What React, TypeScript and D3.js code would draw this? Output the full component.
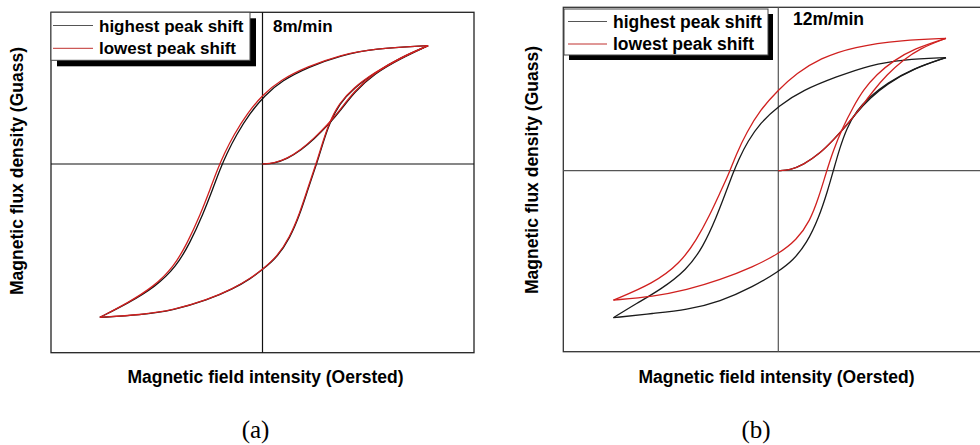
import React from "react";
import * as d3 from "d3";

type P = [number, number];

// ---------- Panel (a): 8 m/min ----------
const aRedInitial: P[] = [[0, 0], [5.4, 0.4], [11.7, 3.7], [18.0, 9.2], [24.3, 16.9], [30.6, 25.6], [36.9, 36.0], [43.2, 47.7], [52.6, 59.8], [65.2, 69.7], [78.3, 78.0]];
const aRedAscending: P[] = [[-76.9, -101.1], [-57.7, -99.5], [-41.9, -96.2], [-26.2, -89.6], [-13.6, -82.0], [-5.7, -75.4], [0, -69.4], [6.9, -61.1], [12.8, -48.5], [17.6, -32.5], [21.4, -16.0], [24.2, -4.5], [26.0, 3.0], [28.4, 14.0], [31.4, 26.8], [36.1, 40.0], [43.2, 50.5], [52.6, 60.0], [65.2, 70.3], [78.3, 78.0]];
const aRedDescending: P[] = [[78.3, 78.0], [52.6, 76.2], [36.9, 71.9], [21.1, 64.2], [8.5, 55.4], [0, 45.5], [-7.2, 33.4], [-13.6, 19.2], [-18.2, 6.5], [-21.3, -3.5], [-24.6, -16.0], [-29.3, -33.0], [-35.6, -52.3], [-41.9, -67.7], [-51.4, -80.9], [-64.0, -91.8], [-76.9, -101.1]];
const aBlackInitial: P[] = [[0, 0], [5.4, 0.3], [11.8, 3.5], [18.2, 9.0], [24.5, 16.6], [30.8, 25.3], [37.1, 35.7], [43.4, 47.4], [52.8, 59.6], [65.3, 69.6], [78.3, 78.0]];
const aBlackAscending: P[] = [[-76.9, -101.1], [-57.7, -99.6], [-41.9, -96.3], [-26.2, -89.8], [-13.6, -82.2], [-5.7, -75.6], [0, -69.7], [7.0, -61.4], [13.0, -48.8], [17.8, -32.8], [21.6, -16.2], [24.4, -4.7], [26.2, 2.8], [28.6, 13.8], [31.6, 26.6], [36.3, 39.8], [43.4, 50.3], [52.8, 59.9], [65.3, 70.2], [78.3, 78.0]];
const aBlackDescending: P[] = [[78.3, 78.0], [52.8, 76.1], [37.2, 71.7], [21.6, 63.9], [9.2, 55.0], [1.0, 45.2], [-6.0, 33.4], [-12.4, 19.2], [-17.0, 6.5], [-20.1, -3.5], [-23.4, -16.0], [-28.1, -33.0], [-34.4, -52.3], [-40.8, -67.7], [-50.6, -80.9], [-63.6, -91.8], [-76.9, -101.1]];

// ---------- Panel (b): 12 m/min ----------
const bRedInitial: P[] = [[0, 0], [5.4, 0.4], [11.6, 3.5], [19.4, 10.6], [25.6, 18.8], [31.8, 27.9], [38.0, 38.0], [44.2, 49.0], [50.4, 58.6], [58.1, 67.7], [65.9, 74.9], [78.0, 81.0]];
const bRedAscending: P[] = [[-76.7, -79.2], [-58.1, -77.1], [-42.6, -73.0], [-27.1, -66.9], [-11.6, -58.8], [0, -51.0], [8.5, -42.4], [14.7, -31.0], [18.9, -16.0], [22.3, -1.0], [25.6, 12.5], [29.8, 26.0], [34.9, 39.2], [39.5, 49.4], [45.7, 59.0], [53.5, 67.2], [62.8, 74.5], [78.0, 81.0]];
const bRedDescending: P[] = [[78.0, 81.0], [58.1, 80.0], [34.9, 75.9], [19.4, 68.7], [8.5, 59.6], [0, 49.4], [-8.5, 37.1], [-14.7, 23.5], [-19.6, 10.0], [-23.0, -2.0], [-27.1, -13.5], [-31.8, -27.0], [-38.0, -42.4], [-45.7, -56.7], [-58.1, -69.0], [-76.7, -79.2]];
const bBlackInitial: P[] = [[0, 0], [5.4, 0.4], [11.6, 3.5], [19.4, 10.6], [25.6, 18.8], [31.0, 26.5], [36.4, 35.5], [42.6, 44.3], [50.4, 53.0], [62.8, 62.4], [78.0, 69.2]];
const bBlackAscending: P[] = [[-76.7, -90.0], [-58.1, -87.3], [-42.6, -85.3], [-27.1, -80.2], [-11.6, -71.0], [0, -61.8], [7.0, -54.7], [13.2, -44.5], [18.8, -29.0], [22.9, -12.5], [25.6, 0], [28.5, 13.5], [31.8, 26.0], [36.4, 36.8], [42.6, 45.3], [50.4, 53.4], [62.8, 62.6], [78.0, 69.2]];
const bBlackDescending: P[] = [[78.0, 69.2], [58.1, 68.1], [42.6, 64.7], [27.1, 57.5], [11.6, 49.4], [0, 39.6], [-8.5, 29.0], [-14.2, 18.0], [-18.4, 7.0], [-21.2, -2.0], [-24.2, -12.5], [-28.7, -28.2], [-34.9, -46.5], [-42.6, -60.8], [-55.0, -73.0], [-65.9, -81.2], [-76.7, -90.0]];

const seriesNames = ["highest peak shift", "lowest peak shift"];
const speedLabels = ["8m/min", "12m/min"];
const panelCaptions = ["(a)", "(b)"];
const xAxisTitle = "Magnetic field intensity (Oersted)";
const yAxisTitle = "Magnetic flux density (Guass)";

const FONT = "'Liberation Sans', Arial, sans-serif";
const BLACK = "#111";
const RED = "#d0201f";

interface PanelProps {
  xRange: [number, number];
  yRange: [number, number];
  yMin: number;
  black: P[][];
  red: P[][];
  speed: string;
  caption: string;
  frameColor: string;
  axisColor: string;
  curveBlack: string;
  legend: { x0: number; y0: number; w: number; h: number; sh: number; lineX: [number, number]; textX: number; y1: number; y2: number; fs: number };
  speedPos: [number, number];
  xTitlePos: [number, number];
  yTitlePos: [number, number];
  captionPos: [number, number];
}

function Panel(p: PanelProps) {
  const x = d3.scaleLinear().domain([-100, 100]).range(p.xRange);
  const y = d3.scaleLinear().domain([p.yMin, 100]).range(p.yRange);
  const line = d3
    .line<P>()
    .x((d) => x(d[0]))
    .y((d) => y(d[1]))
    .curve(d3.curveBasis);
  const L = p.legend;
  return (
    <g>
      <rect
        x={x(-100)}
        y={y(100)}
        width={x(100) - x(-100)}
        height={y(p.yMin) - y(100)}
        fill="#fff"
        stroke={p.frameColor}
        strokeWidth={1.3}
      />
      <line x1={x(-100)} x2={x(100)} y1={y(0)} y2={y(0)} stroke={p.axisColor} strokeWidth={1.2} />
      <line x1={x(0)} x2={x(0)} y1={y(100)} y2={y(p.yMin)} stroke={p.axisColor} strokeWidth={1.2} />
      {p.black.map((b, i) => (
        <path key={"k" + i} d={line(b) || ""} fill="none" stroke={p.curveBlack} strokeWidth={1.3} />
      ))}
      {p.red.map((b, i) => (
        <path key={"r" + i} d={line(b) || ""} fill="none" stroke={RED} strokeWidth={1.3} />
      ))}
      <rect x={L.x0 + L.sh} y={L.y0 + L.sh} width={L.w} height={L.h} fill="#000" />
      <rect x={L.x0} y={L.y0} width={L.w} height={L.h} fill="#fff" stroke="#444" strokeWidth={1} />
      <line x1={L.lineX[0]} x2={L.lineX[1]} y1={L.y1 - 6} y2={L.y1 - 6} stroke="#555" strokeWidth={1} />
      <line x1={L.lineX[0]} x2={L.lineX[1]} y1={L.y2 - 6} y2={L.y2 - 6} stroke="#c0302e" strokeWidth={1} />
      <text x={L.textX} y={L.y1} fontFamily={FONT} fontWeight="bold" fontSize={L.fs} fill="#000">
        {seriesNames[0]}
      </text>
      <text x={L.textX} y={L.y2} fontFamily={FONT} fontWeight="bold" fontSize={L.fs} fill="#000">
        {seriesNames[1]}
      </text>
      <text x={p.speedPos[0]} y={p.speedPos[1]} fontFamily={FONT} fontWeight="bold" fontSize={L.fs} fill="#000">
        {p.speed}
      </text>
      <text
        x={p.xTitlePos[0]}
        y={p.xTitlePos[1]}
        textAnchor="middle"
        fontFamily={FONT}
        fontWeight="bold"
        fontSize={17.5}
        fill="#000"
      >
        {xAxisTitle}
      </text>
      <text
        transform={`translate(${p.yTitlePos[0]},${p.yTitlePos[1]}) rotate(-90)`}
        textAnchor="middle"
        fontFamily={FONT}
        fontWeight="bold"
        fontSize={17.5}
        fill="#000"
      >
        {yAxisTitle}
      </text>
      <text
        x={p.captionPos[0]}
        y={p.captionPos[1]}
        textAnchor="middle"
        fontFamily="'Liberation Serif', 'Times New Roman', serif"
        fontSize={25}
        fill="#000"
      >
        {p.caption}
      </text>
    </g>
  );
}

export default function App() {
  return (
    <svg
      width={980}
      height={445}
      viewBox="0 0 980 445"
      style={{ position: "absolute", left: 0, top: 0, background: "#fff" }}
    >
      <rect x={0} y={0} width={980} height={445} fill="#fff" />
      <Panel
        xRange={[51, 474]}
        yRange={[352.7, 12.3]}
        yMin={-124.4}
        black={[aBlackInitial, aBlackAscending, aBlackDescending]}
        red={[aRedInitial, aRedAscending, aRedDescending]}
        speed={speedLabels[0]}
        caption={panelCaptions[0]}
        frameColor="#222"
        axisColor="#111"
        curveBlack={BLACK}
        legend={{ x0: 51, y0: 12.3, w: 199, h: 48, sh: 6, lineX: [53, 93], textX: 99, y1: 31.5, y2: 54.3, fs: 17 }}
        speedPos={[273, 32.3]}
        xTitlePos={[265.5, 383]}
        yTitlePos={[23, 171]}
        captionPos={[255.5, 438]}
      />
      <Panel
        xRange={[563.3, 993.3]}
        yRange={[351.7, 7.3]}
        yMin={-110.8}
        black={[bBlackInitial, bBlackAscending, bBlackDescending]}
        red={[bRedInitial, bRedAscending, bRedDescending]}
        speed={speedLabels[1]}
        caption={panelCaptions[1]}
        frameColor="#333"
        axisColor="#555"
        curveBlack="#1a1a1a"
        legend={{ x0: 564, y0: 9, w: 204, h: 46, sh: 5, lineX: [568, 607], textX: 613, y1: 27.5, y2: 50, fs: 17.5 }}
        speedPos={[793, 25]}
        xTitlePos={[776.5, 383]}
        yTitlePos={[538, 170]}
        captionPos={[756, 438]}
      />
    </svg>
  );
}
